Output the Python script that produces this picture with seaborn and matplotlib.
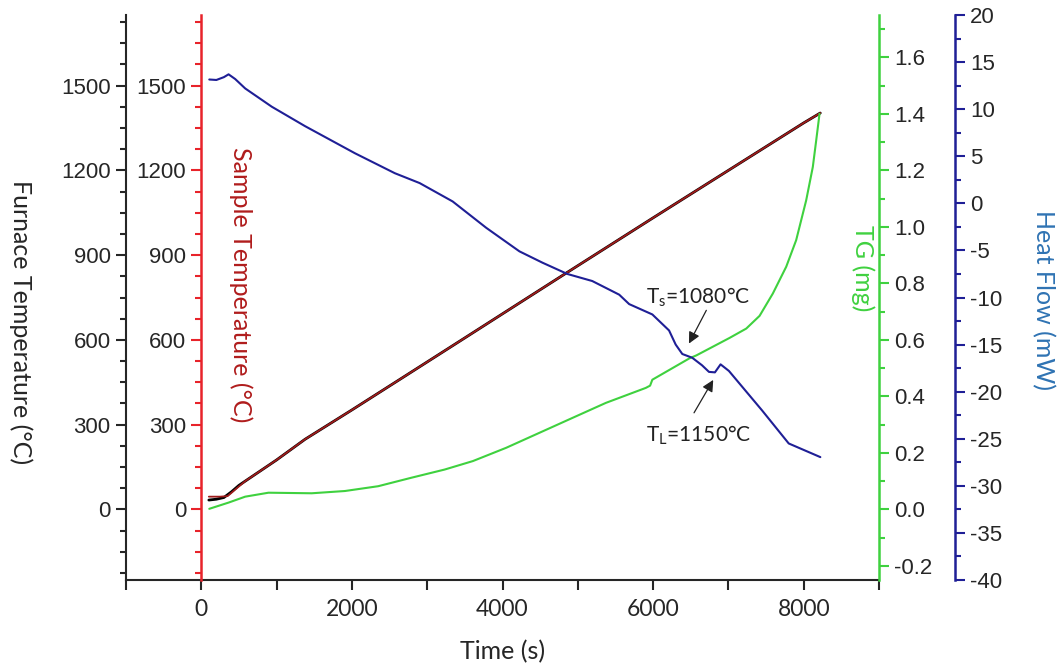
import matplotlib
matplotlib.use("Agg")
import matplotlib.pyplot as plt
from matplotlib.ticker import MultipleLocator
import seaborn as sns
import pandas as pd

# ---------------- data ----------------
sample_t = [100, 250, 350, 450, 583, 1000, 1377, 2000, 2636, 3500, 4861, 6000, 7000, 8000, 8220]
sample_T = [45, 45, 47, 70, 100, 175, 248, 352, 460, 607, 839, 1032, 1200, 1368, 1403]

furnace_t = [100, 200, 300, 400, 500, 583, 1000, 1377, 2000, 2636, 3500, 4861, 6000, 7000, 8000, 8220]
furnace_T = [33, 36, 42, 62, 85, 100, 175, 248, 352, 460, 607, 839, 1032, 1200, 1368, 1403]

tg_t = [106, 362, 583, 892, 1466, 1907, 2349, 2790, 3232, 3607, 4049, 4490, 4931, 5373,
        5903, 5960, 5990, 6485, 6574, 7016, 7237, 7414, 7590, 7768, 7900, 8033, 8121, 8166, 8210]
tg_mg = [0.002, 0.024, 0.045, 0.059, 0.057, 0.065, 0.082, 0.112, 0.141, 0.171, 0.218, 0.271,
         0.324, 0.377, 0.430, 0.438, 0.459, 0.535, 0.545, 0.607, 0.640, 0.685, 0.764, 0.859,
         0.953, 1.094, 1.212, 1.306, 1.40]

hf_t = [106, 200, 300, 362, 450, 583, 936, 1377, 2040, 2570, 2900, 3338, 3784, 4225, 4530,
        4861, 5192, 5550, 5682, 5990, 6212, 6300, 6388, 6520, 6650, 6742, 6821, 6896, 7007,
        7448, 7801, 8221]
hf_mw = [13.15, 13.1, 13.4, 13.7, 13.2, 12.2, 10.26, 8.2, 5.32, 3.2, 2.15, 0.2, -2.6, -5.1, -6.3,
         -7.5, -8.25, -9.7, -10.7, -11.8, -13.5, -15.0, -16.0, -16.4, -17.2, -17.9, -17.95, -17.1, -17.8,
         -22.0, -25.5, -26.95]

left_ticks = [0, 300, 600, 900, 1200, 1500]
tg_ticks = [-0.2, 0.0, 0.2, 0.4, 0.6, 0.8, 1.0, 1.2, 1.4, 1.6]
hf_ticks = [-40, -35, -30, -25, -20, -15, -10, -5, 0, 5, 10, 15, 20]
x_ticks = [0, 2000, 4000, 6000, 8000]

# ---------------- style ----------------
sns.set_style("ticks")
plt.rcParams['font.family'] = ['Liberation Sans', 'DejaVu Sans']
plt.rcParams['mathtext.fontset'] = 'custom'
plt.rcParams['mathtext.rm'] = 'Lato'

ARIAL = ['Liberation Sans', 'DejaVu Sans']
HUM = ['Lato', 'DejaVu Sans']
RED_AX = '#e8232a'
RED_LINE = '#9e1b1b'
GREEN = '#3fd13f'
NAVY = '#1f1f96'
HF_LABEL = '#2f73b3'

fig = plt.figure(figsize=(10.61, 6.67), dpi=100)
ax = fig.add_axes([126/1061, 1-580/667, (879-126)/1061, (580-15)/667])
ax_red = ax.twinx()
ax_tg = ax.twinx()
ax_hf = ax.twinx()

df_f = pd.DataFrame({'t': furnace_t, 'T': furnace_T})
df_s = pd.DataFrame({'t': sample_t, 'T': sample_T})
df_g = pd.DataFrame({'t': tg_t, 'm': tg_mg})
df_h = pd.DataFrame({'t': hf_t, 'q': hf_mw})

sns.lineplot(data=df_f, x='t', y='T', ax=ax, color='black', lw=2.0, sort=False, estimator=None)
sns.lineplot(data=df_s, x='t', y='T', ax=ax_red, color=RED_LINE, lw=1.3, sort=False, estimator=None)
sns.lineplot(data=df_g, x='t', y='m', ax=ax_tg, color=GREEN, lw=1.5, sort=False, estimator=None)
sns.lineplot(data=df_h, x='t', y='q', ax=ax_hf, color=NAVY, lw=1.5, sort=False, estimator=None)

# ---------------- x axis ----------------
ax.set_xlim(-1000, 9000)
ax.set_xticks(x_ticks)
ax.xaxis.set_minor_locator(MultipleLocator(1000))
ax.set_xticklabels([str(v) for v in x_ticks], fontfamily=HUM, fontsize=16.5)
ax.tick_params(axis='x', which='major', length=7, width=1.5, direction='out', pad=7)
ax.tick_params(axis='x', which='minor', length=7, width=1.5, direction='out')
ax.set_xlabel('Time (s)', fontfamily=HUM, fontsize=18, labelpad=14)

# ---------------- left furnace axis ----------------
ax.set_ylim(-250, 1750)
ax.set_yticks(left_ticks)
ax.yaxis.set_minor_locator(MultipleLocator(75))
ax.set_yticklabels([str(v) for v in left_ticks], fontfamily=ARIAL, fontsize=16)
ax.tick_params(axis='y', which='major', length=7, width=1.5, direction='out', pad=4)
ax.tick_params(axis='y', which='minor', length=4, width=1.5, direction='out')
ax.set_ylabel('Furnace Temperature (°C)', fontfamily=HUM, fontsize=18, rotation=-90,
              va='center', ha='center')
ax.yaxis.set_label_coords(-0.14, (580-322)/565)
for s in ['top', 'right']:
    ax.spines[s].set_visible(False)
ax.spines['left'].set_linewidth(1.5)
ax.spines['bottom'].set_linewidth(1.5)

# ---------------- red sample axis (inner) ----------------
ax_red.set_ylim(-250, 1750)
for s in ['top', 'right', 'bottom']:
    ax_red.spines[s].set_visible(False)
ax_red.spines['left'].set_visible(True)
ax_red.spines['left'].set_position(('data', 0))
ax_red.spines['left'].set_color(RED_AX)
ax_red.spines['left'].set_linewidth(1.8)
ax_red.yaxis.tick_left()
ax_red.set_yticks(left_ticks)
ax_red.yaxis.set_minor_locator(MultipleLocator(75))
ax_red.set_yticklabels([str(v) for v in left_ticks], fontfamily=ARIAL, fontsize=16)
ax_red.tick_params(axis='y', which='major', length=7, width=1.5, direction='out', color=RED_AX, pad=4)
ax_red.tick_params(axis='y', which='minor', length=4, width=1.5, direction='out', color=RED_AX)
ax_red.yaxis.set_label_position('left')
ax_red.set_ylabel('Sample Temperature (°C)', fontfamily=HUM, fontsize=18, color='#b01c1c',
                  rotation=-90, va='center', ha='center')
ax_red.yaxis.set_label_coords(0.152, (580-285)/565)

# ---------------- green TG axis ----------------
ax_tg.set_ylim(-0.25, 1.75)
for s in ['top', 'left', 'bottom']:
    ax_tg.spines[s].set_visible(False)
ax_tg.spines['right'].set_color(GREEN)
ax_tg.spines['right'].set_linewidth(1.8)
ax_tg.set_yticks(tg_ticks)
ax_tg.yaxis.set_minor_locator(MultipleLocator(0.1))
ax_tg.set_yticklabels([f'{v:.1f}' for v in tg_ticks], fontfamily=ARIAL, fontsize=16)
ax_tg.tick_params(axis='y', which='major', length=7, width=1.5, direction='out', color=GREEN, pad=4)
ax_tg.tick_params(axis='y', which='minor', length=4, width=1.5, direction='out', color=GREEN)
ax_tg.set_ylabel('TG (mg)', fontfamily=HUM, fontsize=18, color=GREEN, rotation=-90,
                 va='center', ha='center')
ax_tg.yaxis.set_label_coords(0.978, (580-268)/565)

# ---------------- navy heat flow axis ----------------
ax_hf.set_ylim(-40, 20)
for s in ['top', 'left', 'bottom']:
    ax_hf.spines[s].set_visible(False)
ax_hf.spines['right'].set_position(('axes', (955-126)/753))
ax_hf.spines['right'].set_color(NAVY)
ax_hf.spines['right'].set_linewidth(1.8)
ax_hf.set_yticks(hf_ticks)
ax_hf.yaxis.set_minor_locator(MultipleLocator(2.5))
ax_hf.set_yticklabels([str(v) for v in hf_ticks], fontfamily=ARIAL, fontsize=16)
ax_hf.tick_params(axis='y', which='major', length=7, width=1.5, direction='out', color=NAVY, pad=4)
ax_hf.tick_params(axis='y', which='minor', length=4, width=1.5, direction='out', color=NAVY)
ax_hf.set_ylabel('Heat Flow (mW)', fontfamily=HUM, fontsize=18, color=HF_LABEL, rotation=-90,
                 va='center', ha='center')
ax_hf.yaxis.set_label_coords((1043-126)/753, (580-300)/565)

# ---------------- annotations ----------------
arrow = dict(arrowstyle='-|>', color='#222222', lw=0.9, mutation_scale=17)
ax_hf.annotate('', xy=(6459, -15.15), xytext=(6724, -11.1), arrowprops=arrow)
ax_hf.text(6592, -9.95, r'T$_\mathregular{s}$=1080°C', fontfamily=HUM, fontsize=15,
           ha='center', va='center', color='#222222')
ax_hf.annotate('', xy=(6817, -18.5), xytext=(6525, -22.5), arrowprops=arrow)
ax_hf.text(6605, -24.6, r'T$_\mathregular{L}$=1150°C', fontfamily=HUM, fontsize=15,
           ha='center', va='center', color='#222222')

for a in (ax_red, ax_tg, ax_hf):
    a.patch.set_visible(False)

fig.savefig('out.png', dpi=100)
